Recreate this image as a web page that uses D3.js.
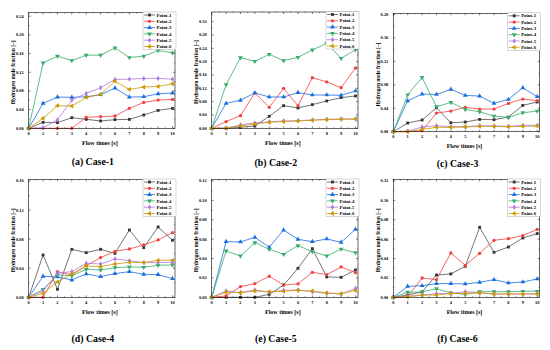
<!DOCTYPE html>
<html>
<head>
<meta charset="utf-8">
<script src="https://cdn.jsdelivr.net/npm/d3@7"></script>
<style>
  body { margin: 0; background: #fff; }
  svg { display: block; }
  text { font-family: "Liberation Serif", "DejaVu Serif", serif; font-weight: bold; }
</style>
</head>
<body>
<div id="chart"></div>
<script>
// flow time steps [s]
var times = [0, 1, 2, 3, 4, 5, 6, 7, 8, 9, 10];
var pointNames = ["Point-1", "Point-2", "Point-3", "Point-4", "Point-5", "Point-6"];

// hydrogen mole fraction, one row per point
var case1 = [
    [0, 0.0128, 0.0121, 0.0228, 0.0192, 0.0157, 0.0185, 0.0192, 0.0285, 0.0384, 0.0427],
    [0, 0, 0, 0, 0.0235, 0.0249, 0.0263, 0.0427, 0.0555, 0.0605, 0.0619],
    [0, 0.0534, 0.0669, 0.0662, 0.0676, 0.0719, 0.0861, 0.0669, 0.0676, 0.074, 0.0754],
    [0, 0.140, 0.1545, 0.145, 0.1566, 0.1566, 0.172, 0.1516, 0.1545, 0.1666, 0.1616],
    [0, 0.001, 0.018, 0.0605, 0.0747, 0.0868, 0.1046, 0.1053, 0.1068, 0.1068, 0.1053],
    [0, 0.0214, 0.0484, 0.0477, 0.0662, 0.0726, 0.101, 0.0833, 0.0883, 0.0897, 0.0954]
];
var case2 = [
    [0, 0, 0.003, 0.007, 0.036, 0.068, 0.061, 0.071, 0.082, 0.092, 0.097],
    [0, 0.020, 0.038, 0.106, 0.063, 0.120, 0.068, 0.152, 0.139, 0.122, 0.181],
    [0, 0.075, 0.084, 0.106, 0.094, 0.094, 0.107, 0.100, 0.100, 0.099, 0.112],
    [0, 0.131, 0.212, 0.201, 0.222, 0.203, 0.213, 0.235, 0.255, 0.210, 0.236],
    [0, 0.001, 0.010, 0.016, 0.019, 0.022, 0.023, 0.025, 0.027, 0.028, 0.028],
    [0, 0, 0.007, 0.013, 0.018, 0.020, 0.022, 0.024, 0.026, 0.027, 0.028]
];
var case3 = [
    [0, 0.0148, 0.0199, 0.0409, 0.0153, 0.0165, 0.021, 0.0205, 0.025, 0.0449, 0.0506],
    [0, 0, 0.0017, 0.0318, 0.0352, 0.0415, 0.0386, 0.0386, 0.0483, 0.0557, 0.0528],
    [0, 0.0528, 0.0642, 0.0636, 0.0722, 0.0619, 0.0608, 0.0483, 0.0551, 0.075, 0.0597],
    [0, 0.063, 0.0926, 0.0426, 0.050, 0.038, 0.034, 0.0267, 0.0244, 0.0324, 0.0352],
    [0, 0.001, 0.008, 0.0102, 0.0085, 0.0085, 0.0102, 0.0097, 0.0091, 0.0108, 0.0108],
    [0, 0, 0.004, 0.0074, 0.0074, 0.008, 0.0091, 0.0091, 0.0085, 0.0091, 0.0097]
];
var case4 = [
    [0, 0.0582, 0.011, 0.066, 0.0614, 0.066, 0.0605, 0.0926, 0.0683, 0.0967, 0.0784],
    [0, 0, 0.0353, 0.0307, 0.0436, 0.0546, 0.0633, 0.0665, 0.072, 0.0789, 0.089],
    [0, 0.0289, 0.028, 0.0238, 0.0321, 0.0284, 0.0326, 0.0353, 0.0316, 0.0312, 0.0257],
    [0, 0.011, 0.0307, 0.0298, 0.0385, 0.0376, 0.0408, 0.0417, 0.0413, 0.044, 0.0445],
    [0, 0.0087, 0.033, 0.0353, 0.0468, 0.0458, 0.0527, 0.0504, 0.0477, 0.0477, 0.0481],
    [0, 0.0055, 0.0211, 0.0321, 0.0431, 0.0422, 0.0458, 0.0481, 0.0477, 0.0509, 0.0509]
];
var case5 = [
    [0, 0, 0, 0, 0.003, 0.0127, 0.0299, 0.0502, 0.021, 0.0206, 0.0282],
    [0, 0.0014, 0.011, 0.0141, 0.0217, 0.0127, 0.0138, 0.0258, 0.0234, 0.0313, 0.0254],
    [0, 0.0574, 0.0571, 0.0619, 0.0516, 0.0694, 0.0598, 0.0574, 0.0602, 0.0567, 0.0701],
    [0, 0.0478, 0.0426, 0.0564, 0.0495, 0.0443, 0.0533, 0.0471, 0.0426, 0.0498, 0.0461],
    [0, 0.0065, 0.0048, 0.0076, 0.0052, 0.0072, 0.0076, 0.0058, 0.0041, 0.0034, 0.0093],
    [0, 0.0052, 0.0048, 0.0065, 0.0058, 0.0062, 0.0072, 0.0065, 0.0045, 0.0038, 0.0069]
];
var case6 = [
    [0, 0.0024, 0.0055, 0.023, 0.0241, 0.032, 0.0722, 0.0464, 0.0519, 0.0612, 0.0657],
    [0, 0.0007, 0.0199, 0.0182, 0.0457, 0.033, 0.0454, 0.0588, 0.0605, 0.0636, 0.0701],
    [0, 0.0113, 0.012, 0.0141, 0.0141, 0.0138, 0.0155, 0.0182, 0.0148, 0.0158, 0.0189],
    [0, 0.0052, 0.0055, 0.0089, 0.0045, 0.0031, 0.0058, 0.0058, 0.0058, 0.0062, 0.0062],
    [0, 0.001, 0.0024, 0.0038, 0.0041, 0.0058, 0.0048, 0.0034, 0.0034, 0.0034, 0.0038],
    [0, 0.0007, 0.0021, 0.0024, 0.0038, 0.0041, 0.0045, 0.0034, 0.0034, 0.0034, 0.0034]
];
var captions = ["(a) Case-1", "(b) Case-2", "(c) Case-3", "(d) Case-4", "(e) Case-5", "(f) Case-6"];
var yTickSets = [
    [0, 0.04, 0.08, 0.12, 0.16, 0.20, 0.24],
    [0, 0.04, 0.08, 0.12, 0.16, 0.20, 0.24, 0.28, 0.32],
    [0, 0.04, 0.08, 0.12, 0.16, 0.20],
    [0, 0.04, 0.08, 0.12, 0.16],
    [0, 0.02, 0.04, 0.06, 0.08, 0.10, 0.12],
    [0, 0.02, 0.04, 0.06, 0.08, 0.10, 0.12]
];
var yMax = [0.248, 0.349, 0.202, 0.162, 0.1215, 0.1215];

var allCases = [case1, case2, case3, case4, case5, case6];

var colors = ["#515151", "#F14040", "#1A6FDF", "#37AD6B", "#B177DE", "#CC9900"];
var markerFill = ["#333333", "#F14040", "#1A6FDF", "#37AD6B", "#B177DE", "#CC9900"];

// panel frames
var layout = [
    { left: 28.7, x10: 172.5, right: 175, top: 12.5, bottom: 128.3, cap: 165 },
    { left: 211.7, x10: 355.5, right: 358, top: 12, bottom: 128.3, cap: 165.5 },
    { left: 393.3, x10: 537.2, right: 539.7, top: 13.3, bottom: 131.7, cap: 166.5 },
    { left: 28.7, x10: 172.5, right: 175, top: 179.5, bottom: 297.3, cap: 341.5 },
    { left: 211.7, x10: 355.5, right: 358, top: 179.5, bottom: 297.3, cap: 341.5 },
    { left: 393.3, x10: 537.2, right: 539.7, top: 179.5, bottom: 297.3, cap: 341.5 }
];

function markerPath(i) {
    var sym = [d3.symbolSquare, d3.symbolCircle, d3.symbolTriangle, d3.symbolTriangle, d3.symbolDiamond, d3.symbolTriangle][i];
    var size = [8, 8.5, 10, 10, 8.5, 10][i];
    return d3.symbol().type(sym).size(size)();
}
var markerRot = [0, 0, 0, 180, 0, -90];

var svg = d3.select("#chart").append("svg")
    .attr("width", 550)
    .attr("height", 350);

allCases.forEach(function (rows, p) {
    var L = layout[p];
    var x = d3.scaleLinear().domain([0, 10]).range([L.left, L.x10]);
    var y = d3.scaleLinear().domain([0, yMax[p]]).range([L.bottom, L.top]);
    var g = svg.append("g");

    // ticks, inward on all four sides
    var minorX = d3.range(0.5, 10.1, 1);
    times.forEach(function (t) {
        g.append("line").attr("x1", x(t)).attr("x2", x(t)).attr("y1", L.bottom).attr("y2", L.bottom - 2).attr("stroke", "#000").attr("stroke-width", 0.5);
        g.append("line").attr("x1", x(t)).attr("x2", x(t)).attr("y1", L.top).attr("y2", L.top + 2).attr("stroke", "#000").attr("stroke-width", 0.5);
    });
    minorX.forEach(function (t) {
        g.append("line").attr("x1", x(t)).attr("x2", x(t)).attr("y1", L.bottom).attr("y2", L.bottom - 1.1).attr("stroke", "#000").attr("stroke-width", 0.4);
        g.append("line").attr("x1", x(t)).attr("x2", x(t)).attr("y1", L.top).attr("y2", L.top + 1.1).attr("stroke", "#000").attr("stroke-width", 0.4);
    });
    var yt = yTickSets[p];
    var step = yt[1] - yt[0];
    yt.forEach(function (v) {
        g.append("line").attr("x1", L.left).attr("x2", L.left + 2).attr("y1", y(v)).attr("y2", y(v)).attr("stroke", "#000").attr("stroke-width", 0.5);
        g.append("line").attr("x1", L.right).attr("x2", L.right - 2).attr("y1", y(v)).attr("y2", y(v)).attr("stroke", "#000").attr("stroke-width", 0.5);
        var m = v + step / 2;
        if (m < yMax[p]) {
            g.append("line").attr("x1", L.left).attr("x2", L.left + 1.1).attr("y1", y(m)).attr("y2", y(m)).attr("stroke", "#000").attr("stroke-width", 0.4);
            g.append("line").attr("x1", L.right).attr("x2", L.right - 1.1).attr("y1", y(m)).attr("y2", y(m)).attr("stroke", "#000").attr("stroke-width", 0.4);
        }
    });

    // tick labels
    g.selectAll(".xl").data(times).enter().append("text")
        .attr("x", function (d) { return x(d); })
        .attr("y", L.bottom + 6.6)
        .attr("text-anchor", "middle")
        .style("font-size", "4.4px")
        .text(function (d) { return d; });
    g.selectAll(".yl").data(yt).enter().append("text")
        .attr("x", L.left - 5)
        .attr("y", function (d) { return y(d) + 1.5; })
        .attr("text-anchor", "end")
        .style("font-size", "4.4px")
        .text(function (d) { return d3.format(".2f")(d); });

    // axis titles
    g.append("text")
        .attr("x", (L.left + L.right) / 2 - 2)
        .attr("y", L.bottom + 16.5)
        .attr("text-anchor", "middle")
        .style("font-size", "6px")
        .text("Flow times [s]");
    g.append("text")
        .attr("transform", "translate(" + (L.left - 13.5) + "," + ((L.top + L.bottom) / 2 + 2) + ") rotate(-90)")
        .attr("text-anchor", "middle")
        .style("font-size", "5.5px")
        .text("Hydrogen mole fraction [\u2013]");

    // series
    rows.forEach(function (vals, i) {
        var pts = times.map(function (t, k) { return [t, vals[k]]; });
        g.append("path")
            .datum(pts)
            .attr("fill", "none")
            .attr("stroke", colors[i])
            .attr("stroke-width", 0.8)
            .attr("d", d3.line().x(function (d) { return x(d[0]); }).y(function (d) { return y(d[1]); }));
        g.selectAll(".m" + i).data(pts).enter().append("path")
            .attr("d", markerPath(i))
            .attr("fill", markerFill[i])
            .attr("transform", function (d) { return "translate(" + x(d[0]) + "," + y(d[1]) + ") rotate(" + markerRot[i] + ")"; });
    });

    // frame
    g.append("rect")
        .attr("x", L.left).attr("y", L.top)
        .attr("width", L.right - L.left).attr("height", L.bottom - L.top)
        .attr("fill", "none").attr("stroke", "#000").attr("stroke-width", 0.6);

    // legend
    var lx = L.right - 32, ly = L.top - 0.5;
    var lg = g.append("g");
    lg.append("rect")
        .attr("x", lx).attr("y", ly).attr("width", 33).attr("height", 37.5)
        .attr("fill", "#fff").attr("stroke", "#999").attr("stroke-width", 0.4);
    pointNames.forEach(function (name, i) {
        var yy = ly + 3 + i * 6.3;
        lg.append("line").attr("x1", lx + 1).attr("x2", lx + 12).attr("y1", yy).attr("y2", yy)
            .attr("stroke", colors[i]).attr("stroke-width", 0.8);
        lg.append("path").attr("d", markerPath(i)).attr("fill", markerFill[i])
            .attr("transform", "translate(" + (lx + 6.5) + "," + yy + ") rotate(" + markerRot[i] + ")");
        lg.append("text").attr("x", lx + 13.5).attr("y", yy + 1.6)
            .style("font-size", "4.8px").text(name);
    });

    // caption
    svg.append("text")
        .attr("x", (L.left + L.right) / 2 - 9)
        .attr("y", L.cap)
        .attr("text-anchor", "middle")
        .style("font-size", "9.8px")
        .text(captions[p]);
});
</script>
</body>
</html>
